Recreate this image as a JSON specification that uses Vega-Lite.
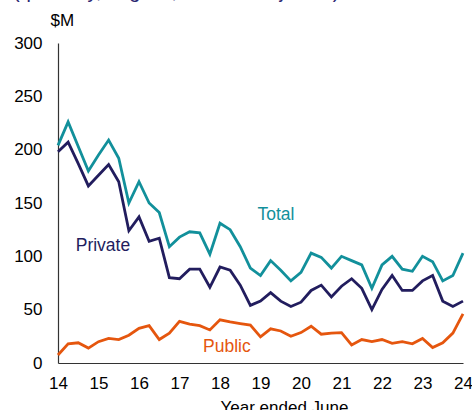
{
  "$schema": "https://vega.github.io/schema/vega-lite/v6.json",
  "width": 405,
  "height": 320,
  "autosize": {"type": "none"},
  "padding": {"left": 58, "top": 43, "right": 9, "bottom": 47},
  "background": "white",
  "title": {
    "text": "(quarterly, original, inflation adjusted)",
    "anchor": "start",
    "frame": "group",
    "orient": "top",
    "offset": 0,
    "dx": -45,
    "dy": 7,
    "baseline": "alphabetic",
    "fontSize": 20,
    "fontWeight": "normal",
    "color": "#2b2872",
    "font": "Liberation Sans"
  },
  "config": {
    "view": {"stroke": null},
    "font": "Liberation Sans",
    "axis": {
      "grid": false,
      "ticks": false,
      "tickSize": 0,
      "labelFontSize": 17,
      "labelColor": "#000000",
      "labelFont": "Liberation Sans",
      "titleFont": "Liberation Sans",
      "titleFontSize": 17,
      "titleFontWeight": "normal",
      "titleColor": "#000000",
      "domainColor": "#333333",
      "domainWidth": 1.2,
      "labelOverlap": false
    }
  },
  "datasets": {
    "series": [
      {"t": 14.0, "s": "Total", "v": 204}, {"t": 14.25, "s": "Total", "v": 226}, {"t": 14.5, "s": "Total", "v": 203}, {"t": 14.75, "s": "Total", "v": 180},
      {"t": 15.0, "s": "Total", "v": 195}, {"t": 15.25, "s": "Total", "v": 209}, {"t": 15.5, "s": "Total", "v": 192}, {"t": 15.75, "s": "Total", "v": 150},
      {"t": 16.0, "s": "Total", "v": 170}, {"t": 16.25, "s": "Total", "v": 150}, {"t": 16.5, "s": "Total", "v": 141}, {"t": 16.75, "s": "Total", "v": 109},
      {"t": 17.0, "s": "Total", "v": 118}, {"t": 17.25, "s": "Total", "v": 123}, {"t": 17.5, "s": "Total", "v": 122}, {"t": 17.75, "s": "Total", "v": 102},
      {"t": 18.0, "s": "Total", "v": 131}, {"t": 18.25, "s": "Total", "v": 125}, {"t": 18.5, "s": "Total", "v": 109}, {"t": 18.75, "s": "Total", "v": 89},
      {"t": 19.0, "s": "Total", "v": 82}, {"t": 19.25, "s": "Total", "v": 96}, {"t": 19.5, "s": "Total", "v": 87}, {"t": 19.75, "s": "Total", "v": 77},
      {"t": 20.0, "s": "Total", "v": 85}, {"t": 20.25, "s": "Total", "v": 103}, {"t": 20.5, "s": "Total", "v": 99}, {"t": 20.75, "s": "Total", "v": 89},
      {"t": 21.0, "s": "Total", "v": 100}, {"t": 21.25, "s": "Total", "v": 96}, {"t": 21.5, "s": "Total", "v": 92}, {"t": 21.75, "s": "Total", "v": 70},
      {"t": 22.0, "s": "Total", "v": 92}, {"t": 22.25, "s": "Total", "v": 100}, {"t": 22.5, "s": "Total", "v": 88}, {"t": 22.75, "s": "Total", "v": 86},
      {"t": 23.0, "s": "Total", "v": 100}, {"t": 23.25, "s": "Total", "v": 95}, {"t": 23.5, "s": "Total", "v": 77}, {"t": 23.75, "s": "Total", "v": 82},
      {"t": 24.0, "s": "Total", "v": 103},
      {"t": 14.0, "s": "Private", "v": 198}, {"t": 14.25, "s": "Private", "v": 207}, {"t": 14.5, "s": "Private", "v": 187}, {"t": 14.75, "s": "Private", "v": 166},
      {"t": 15.0, "s": "Private", "v": 176}, {"t": 15.25, "s": "Private", "v": 186}, {"t": 15.5, "s": "Private", "v": 170}, {"t": 15.75, "s": "Private", "v": 124},
      {"t": 16.0, "s": "Private", "v": 137}, {"t": 16.25, "s": "Private", "v": 114}, {"t": 16.5, "s": "Private", "v": 117}, {"t": 16.75, "s": "Private", "v": 80},
      {"t": 17.0, "s": "Private", "v": 79}, {"t": 17.25, "s": "Private", "v": 88}, {"t": 17.5, "s": "Private", "v": 88}, {"t": 17.75, "s": "Private", "v": 71},
      {"t": 18.0, "s": "Private", "v": 90}, {"t": 18.25, "s": "Private", "v": 87}, {"t": 18.5, "s": "Private", "v": 73}, {"t": 18.75, "s": "Private", "v": 54},
      {"t": 19.0, "s": "Private", "v": 58}, {"t": 19.25, "s": "Private", "v": 66}, {"t": 19.5, "s": "Private", "v": 58}, {"t": 19.75, "s": "Private", "v": 53},
      {"t": 20.0, "s": "Private", "v": 57}, {"t": 20.25, "s": "Private", "v": 68}, {"t": 20.5, "s": "Private", "v": 73}, {"t": 20.75, "s": "Private", "v": 62},
      {"t": 21.0, "s": "Private", "v": 72}, {"t": 21.25, "s": "Private", "v": 79}, {"t": 21.5, "s": "Private", "v": 70}, {"t": 21.75, "s": "Private", "v": 50},
      {"t": 22.0, "s": "Private", "v": 69}, {"t": 22.25, "s": "Private", "v": 82}, {"t": 22.5, "s": "Private", "v": 68}, {"t": 22.75, "s": "Private", "v": 68},
      {"t": 23.0, "s": "Private", "v": 77}, {"t": 23.25, "s": "Private", "v": 82}, {"t": 23.5, "s": "Private", "v": 58}, {"t": 23.75, "s": "Private", "v": 53},
      {"t": 24.0, "s": "Private", "v": 58},
      {"t": 14.0, "s": "Public", "v": 7.5}, {"t": 14.25, "s": "Public", "v": 18}, {"t": 14.5, "s": "Public", "v": 19}, {"t": 14.75, "s": "Public", "v": 14},
      {"t": 15.0, "s": "Public", "v": 20}, {"t": 15.25, "s": "Public", "v": 23}, {"t": 15.5, "s": "Public", "v": 22}, {"t": 15.75, "s": "Public", "v": 26},
      {"t": 16.0, "s": "Public", "v": 32.5}, {"t": 16.25, "s": "Public", "v": 35}, {"t": 16.5, "s": "Public", "v": 22}, {"t": 16.75, "s": "Public", "v": 28},
      {"t": 17.0, "s": "Public", "v": 39}, {"t": 17.25, "s": "Public", "v": 36.5}, {"t": 17.5, "s": "Public", "v": 35}, {"t": 17.75, "s": "Public", "v": 31},
      {"t": 18.0, "s": "Public", "v": 40.5}, {"t": 18.25, "s": "Public", "v": 38.5}, {"t": 18.5, "s": "Public", "v": 37}, {"t": 18.75, "s": "Public", "v": 35.5},
      {"t": 19.0, "s": "Public", "v": 24.5}, {"t": 19.25, "s": "Public", "v": 32}, {"t": 19.5, "s": "Public", "v": 30}, {"t": 19.75, "s": "Public", "v": 25},
      {"t": 20.0, "s": "Public", "v": 28.5}, {"t": 20.25, "s": "Public", "v": 34.5}, {"t": 20.5, "s": "Public", "v": 27}, {"t": 20.75, "s": "Public", "v": 28},
      {"t": 21.0, "s": "Public", "v": 28.5}, {"t": 21.25, "s": "Public", "v": 17}, {"t": 21.5, "s": "Public", "v": 22}, {"t": 21.75, "s": "Public", "v": 20},
      {"t": 22.0, "s": "Public", "v": 22}, {"t": 22.25, "s": "Public", "v": 18.5}, {"t": 22.5, "s": "Public", "v": 20}, {"t": 22.75, "s": "Public", "v": 18},
      {"t": 23.0, "s": "Public", "v": 23}, {"t": 23.25, "s": "Public", "v": 14.5}, {"t": 23.5, "s": "Public", "v": 19}, {"t": 23.75, "s": "Public", "v": 28},
      {"t": 24.0, "s": "Public", "v": 46}
    ],
    "labels": [
      {"t": 19.38, "v": 139, "s": "Total"},
      {"t": 15.11, "v": 110, "s": "Private"},
      {"t": 18.17, "v": 15.3, "s": "Public"}
    ]
  },
  "encoding": {
    "x": {
      "field": "t",
      "type": "quantitative",
      "scale": {"domain": [14, 24], "nice": false, "zero": false},
      "axis": {
        "values": [14, 15, 16, 17, 18, 19, 20, 21, 22, 23, 24],
        "format": "d",
        "labelFlush": false,
        "labelPadding": 12,
        "title": "Year ended June",
        "titleX": 226,
        "titleY": 36,
        "titleAlign": "center",
        "titleBaseline": "top"
      }
    },
    "y": {
      "field": "v",
      "type": "quantitative",
      "scale": {"domain": [0, 300], "nice": false},
      "axis": {
        "values": [0, 50, 100, 150, 200, 250, 300],
        "labelPadding": 16,
        "title": "$M",
        "titleAngle": 0,
        "titleX": -8,
        "titleY": -23,
        "titleAlign": "left",
        "titleBaseline": "middle"
      }
    },
    "color": {
      "field": "s",
      "type": "nominal",
      "scale": {"domain": ["Total", "Private", "Public"], "range": ["#12909b", "#221d5e", "#e5560e"]},
      "legend": null
    }
  },
  "layer": [
    {
      "data": {"name": "series"},
      "mark": {"type": "line", "strokeWidth": 2.8, "strokeJoin": "miter"},
      "encoding": {"detail": {"field": "s"}}
    },
    {
      "data": {"name": "labels"},
      "mark": {"type": "text", "fontSize": 17.5, "font": "Liberation Sans", "align": "center", "baseline": "middle"},
      "encoding": {"text": {"field": "s"}}
    }
  ]
}
